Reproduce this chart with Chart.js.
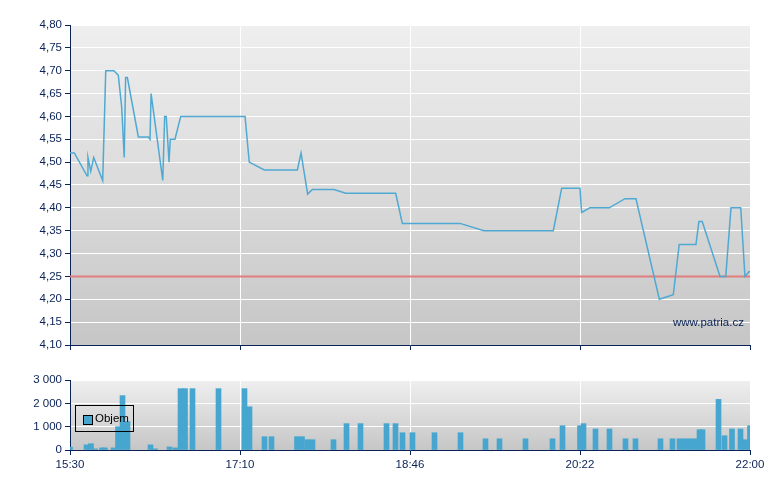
<!DOCTYPE html>
<html>
<head>
<meta charset="utf-8">
<script src="https://cdn.jsdelivr.net/npm/chart.js@4.4.1/dist/chart.umd.min.js"></script>
<style>
body { margin:0; background:#fff; width:780px; height:490px; position:relative; overflow:hidden; font-family:"Liberation Sans", Arial, sans-serif; }
canvas { position:absolute; left:0; }
#priceChart { top:0; }
#volChart { top:360px; }
.legend { position:absolute; left:75px; top:405px; width:59px; height:27px; border:1px solid #000; box-sizing:border-box; font-size:11.5px; color:#000; }
.legend .sq { position:absolute; left:7px; top:9px; width:8px; height:8px; background:#46a6cf; border:1px solid #000; }
.legend .txt { position:absolute; left:19px; top:6px; }
.wm { position:absolute; left:673px; top:316px; font-size:11.5px; color:#0a2256; }
</style>
</head>
<body>
<canvas id="priceChart" width="780" height="360"></canvas>
<canvas id="volChart" width="780" height="130"></canvas>
<div class="legend"><div class="sq"></div><div class="txt">Objem</div></div>
<div class="wm">www.patria.cz</div>
<script>
// minuty od 15:30
const xTickPos = [0, 97.5, 195, 292.5, 390];
const xTickLabels = ['15:30', '17:10', '18:46', '20:22', '22:00'];

const priceTicks = [4.10, 4.15, 4.20, 4.25, 4.30, 4.35, 4.40, 4.45, 4.50, 4.55, 4.60, 4.65, 4.70, 4.75, 4.80];
const volTicks = [0, 1000, 2000, 3000];

const refPrice = 4.25;

const priceTimes = [0, 2.5, 9.75, 10.3, 11.9, 13.6, 18.75, 20.5, 25.2, 27.7, 29.65, 31.1, 31.9, 32.9, 39.2, 44.9, 45.9, 46.5, 53.2, 54.3, 55.2, 56.8, 57.5, 60.2, 63.5, 100.4, 102.8, 111.4, 130.4, 132.5, 136.3, 139, 151.4, 158.1, 186.8, 190.6, 223.7, 237.4, 277.2, 282, 292.5, 293.4, 298.2, 309.3, 318.3, 324.6, 338, 346, 349.4, 359, 360.7, 362.6, 372.8, 376.1, 379.1, 384.7, 387.1, 389.4, 390];
const priceValues = [4.52, 4.52, 4.47, 4.51, 4.48, 4.51, 4.46, 4.70, 4.70, 4.69, 4.62, 4.51, 4.685, 4.685, 4.555, 4.555, 4.55, 4.65, 4.46, 4.60, 4.60, 4.50, 4.55, 4.55, 4.60, 4.60, 4.50, 4.483, 4.483, 4.52, 4.43, 4.44, 4.44, 4.432, 4.432, 4.366, 4.366, 4.35, 4.35, 4.443, 4.443, 4.39, 4.40, 4.40, 4.42, 4.42, 4.20, 4.21, 4.32, 4.32, 4.37, 4.37, 4.25, 4.25, 4.40, 4.40, 4.25, 4.26, 4.26];

const volTimes = [0, 9.46, 12.04, 14.34, 18.35, 20.07, 24.95, 27.53, 30.11, 32.98, 46.17, 48.75, 57.07, 60.51, 63.38, 65.96, 70.26, 85.17, 100.08, 102.95, 111.55, 115.56, 130.19, 133.06, 136.21, 139.08, 151.12, 158.58, 166.61, 181.52, 186.68, 190.7, 196.43, 209.05, 223.96, 238.3, 246.33, 261.24, 276.73, 282.46, 292.5, 294.5, 301.38, 309.41, 318.59, 324.32, 338.67, 345.55, 349.57, 352.44, 355.3, 358.17, 361.04, 362.76, 371.94, 375.38, 379.68, 384.56, 387.43, 390];
const volValues = [120, 220, 270, 50, 90, 90, 90, 1000, 2330, 1220, 220, 50, 130, 90, 2630, 2630, 2630, 2630, 2630, 1850, 570, 570, 570, 570, 440, 440, 440, 1130, 1130, 1130, 1130, 740, 740, 740, 740, 480, 480, 480, 480, 1040, 1040, 1130, 900, 900, 480, 480, 480, 480, 480, 480, 480, 480, 870, 870, 2170, 610, 900, 900, 440, 1040];

const navy = '#0a2256';
const font = { family: '"Liberation Sans", Arial, sans-serif', size: 11.5 };

// pozadi grafu - prechod sede
const bgPlugin = {
    id: 'bg',
    beforeDraw(chart) {
        const { ctx, chartArea: a } = chart;
        const g = ctx.createLinearGradient(0, a.top, 0, a.bottom);
        g.addColorStop(0, '#efefef');
        g.addColorStop(1, '#c6c6c6');
        ctx.save();
        ctx.fillStyle = g;
        ctx.fillRect(a.left, a.top, a.width, a.height);
        ctx.restore();
    }
};

function setTicks(values) {
    return scale => { scale.ticks = values.map(v => ({ value: v })); };
}

new Chart(document.getElementById('priceChart'), {
    type: 'line',
    data: {
        datasets: [
            {
                data: priceTimes.map((t, i) => ({ x: t, y: priceValues[i] })),
                borderColor: '#4fa9d2',
                borderWidth: 1.5,
                pointRadius: 0,
                tension: 0
            },
            {
                data: [{ x: 0, y: refPrice }, { x: 390, y: refPrice }],
                borderColor: '#e07d7d',
                borderWidth: 2,
                pointRadius: 0
            }
        ]
    },
    options: {
        responsive: false,
        animation: false,
        layout: { padding: { top: 25, right: 30 } },
        plugins: { legend: { display: false }, tooltip: { enabled: false } },
        scales: {
            x: {
                type: 'linear', min: 0, max: 390,
                afterBuildTicks: setTicks(xTickPos),
                afterFit: s => { s.height = 15; },
                ticks: { display: false },
                grid: { color: '#fff', lineWidth: 1, tickColor: navy, tickLength: 5 },
                border: { color: navy, width: 1 }
            },
            y: {
                min: 4.10, max: 4.80,
                afterBuildTicks: setTicks(priceTicks),
                afterFit: s => { s.width = 70; },
                ticks: { color: navy, font: font, padding: 3, callback: v => v.toFixed(2).replace('.', ',') },
                grid: { color: '#fff', lineWidth: 1, tickColor: navy, tickLength: 5 },
                border: { color: navy, width: 1 }
            }
        }
    },
    plugins: [bgPlugin]
});

new Chart(document.getElementById('volChart'), {
    type: 'bar',
    data: {
        datasets: [{
            label: 'Objem',
            data: volTimes.map((t, i) => ({ x: t, y: volValues[i] })),
            backgroundColor: '#46a6cf',
            borderWidth: 0,
            barThickness: 5
        }]
    },
    options: {
        responsive: false,
        animation: false,
        layout: { padding: { top: 20, right: 30 } },
        plugins: { legend: { display: false }, tooltip: { enabled: false } },
        scales: {
            x: {
                type: 'linear', min: 0, max: 390, offset: false,
                afterBuildTicks: setTicks(xTickPos),
                afterFit: s => { s.height = 40; },
                ticks: { color: navy, font: font, padding: 3, autoSkip: false, maxRotation: 0, callback: (v, i) => xTickLabels[i] },
                grid: { color: '#fff', lineWidth: 1, tickColor: navy, tickLength: 5, offset: false },
                border: { color: navy, width: 1 }
            },
            y: {
                min: 0, max: 3000,
                afterBuildTicks: setTicks(volTicks),
                afterFit: s => { s.width = 70; },
                ticks: { color: navy, font: font, padding: 3, callback: v => String(v).replace(/\B(?=(\d{3})+(?!\d))/g, ' ') },
                grid: { color: '#fff', lineWidth: 1, tickColor: navy, tickLength: 5 },
                border: { color: navy, width: 1 }
            }
        }
    },
    plugins: [bgPlugin]
});
</script>
</body>
</html>
